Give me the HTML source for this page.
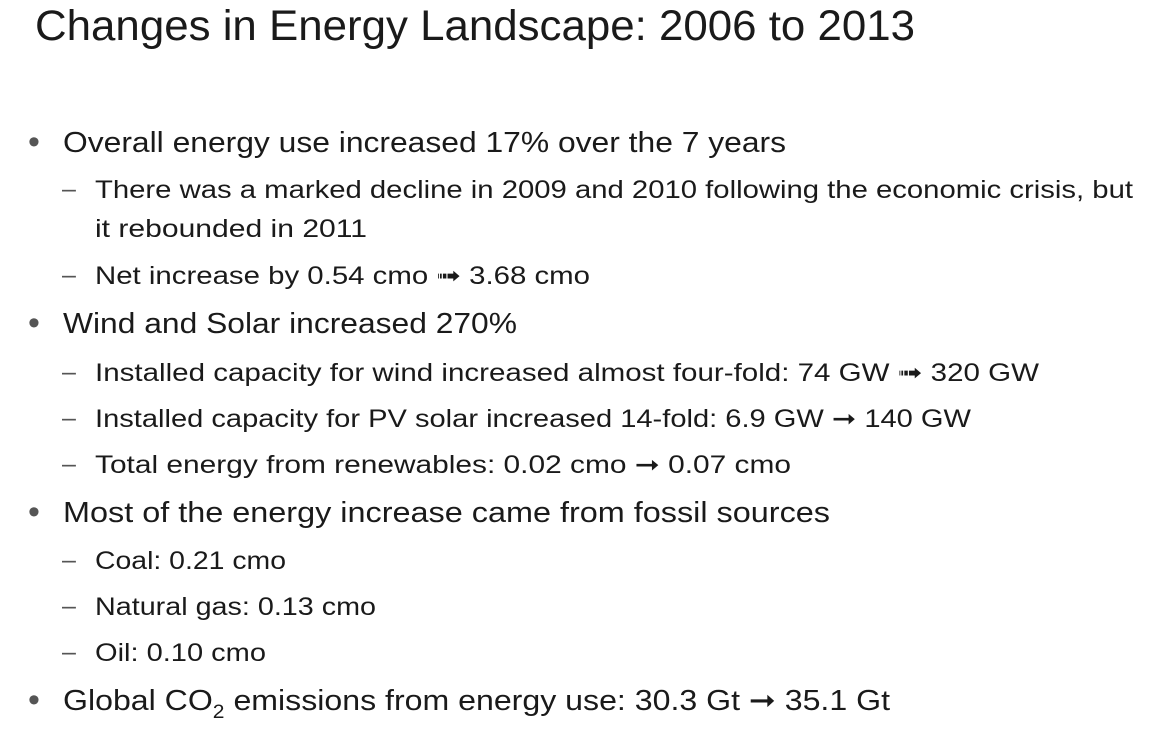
<!DOCTYPE html>
<html><head><meta charset="utf-8"><style>
html,body{margin:0;padding:0;background:#fff;}
svg{display:block;}
text{font-family:"Liberation Sans","DejaVu Sans",sans-serif;fill:#1a1a1a;}
.bul{fill:#555;}
</style></head><body>
<svg width="1170" height="740" viewBox="0 0 1170 740">
<text x="35" y="40" font-size="43" textLength="880" lengthAdjust="spacingAndGlyphs">Changes in Energy Landscape: 2006 to 2013</text>

<g font-size="29">
<text class="bul" x="28" y="153" font-size="34">•</text>
<text x="63" y="152" textLength="723" lengthAdjust="spacingAndGlyphs">Overall energy use increased 17% over the 7 years</text>
<text class="bul" x="28" y="334" font-size="34">•</text>
<text x="63" y="333" textLength="454" lengthAdjust="spacingAndGlyphs">Wind and Solar increased 270%</text>
<text class="bul" x="28" y="523" font-size="34">•</text>
<text x="63" y="522" textLength="767" lengthAdjust="spacingAndGlyphs">Most of the energy increase came from fossil sources</text>
<text class="bul" x="28" y="711" font-size="34">•</text>
<text x="63" y="710" textLength="827" lengthAdjust="spacingAndGlyphs">Global CO<tspan font-size="19" dy="8">2</tspan><tspan dy="-8"> emissions from energy use: 30.3 Gt ➞ 35.1 Gt</tspan></text>
</g>

<g font-size="25">
<text class="bul" x="62" y="197">–</text>
<text x="95" y="198" textLength="1038" lengthAdjust="spacingAndGlyphs">There was a marked decline in 2009 and 2010 following the economic crisis, but</text>
<text x="95" y="237" textLength="272" lengthAdjust="spacingAndGlyphs">it rebounded in 2011</text>
<text class="bul" x="62" y="283">–</text>
<text x="95" y="284" textLength="495" lengthAdjust="spacingAndGlyphs">Net increase by 0.54 cmo ➟ 3.68 cmo</text>

<text class="bul" x="62" y="380">–</text>
<text x="95" y="381" textLength="944" lengthAdjust="spacingAndGlyphs">Installed capacity for wind increased almost four-fold: 74 GW ➟ 320 GW</text>
<text class="bul" x="62" y="426">–</text>
<text x="95" y="427" textLength="876" lengthAdjust="spacingAndGlyphs">Installed capacity for PV solar increased 14-fold: 6.9 GW ➞ 140 GW</text>
<text class="bul" x="62" y="472">–</text>
<text x="95" y="473" textLength="696" lengthAdjust="spacingAndGlyphs">Total energy from renewables:  0.02 cmo ➞ 0.07 cmo</text>

<text class="bul" x="62" y="568">–</text>
<text x="95" y="569" textLength="191" lengthAdjust="spacingAndGlyphs">Coal: 0.21 cmo</text>
<text class="bul" x="62" y="614">–</text>
<text x="95" y="615" textLength="281" lengthAdjust="spacingAndGlyphs">Natural gas: 0.13 cmo</text>
<text class="bul" x="62" y="660">–</text>
<text x="95" y="661" textLength="171" lengthAdjust="spacingAndGlyphs">Oil: 0.10 cmo</text>
</g>
</svg>
</body></html>
